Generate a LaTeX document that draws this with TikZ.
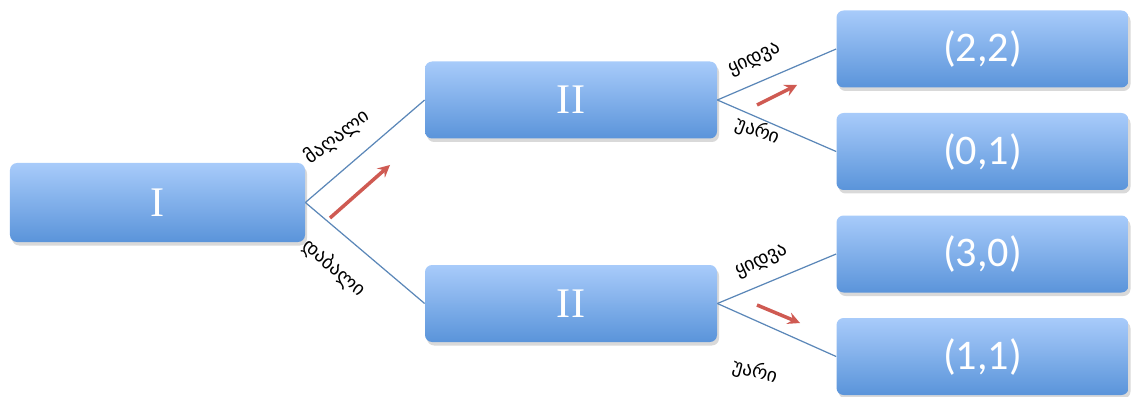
\documentclass[tikz,border=0pt]{standalone}
\usepackage{fontspec}
\setmainfont{Carlito}
\newfontfamily\geofont{DejaVu Sans}
\newfontfamily\romfont{Liberation Serif}
\usetikzlibrary{positioning,shapes,arrows,calc,shadows}

\definecolor{boxtop}{HTML}{A8CBFA}
\definecolor{boxbot}{HTML}{5A94DA}
\definecolor{edgeblue}{HTML}{5B87B8}
\definecolor{hintred}{HTML}{CF5A52}

\begin{document}
\begin{tikzpicture}[
    box/.style={rectangle, rounded corners=4pt, minimum width=5.84cm, minimum height=1.54cm,
        top color=boxtop, bottom color=boxbot, draw=none, text=white, font=\fontsize{24}{26}\selectfont,
        drop shadow={opacity=0.3, shadow xshift=0.04cm, shadow yshift=-0.07cm}},
    player/.style={box, font=\romfont\fontsize{24}{26}\selectfont},
    move/.style={font=\geofont\fontsize{11}{13}\selectfont, inner sep=0pt},
    edge/.style={draw=edgeblue, line width=0.7pt},
    hint/.style={->,>=stealth, draw=hintred, line width=2pt}
]
    \useasboundingbox (0,0) rectangle (22.62,-7.94);

    \node[player, minimum width=5.9cm, minimum height=1.58cm] (first) at (3.15,-4.05) {I};
    \node[player] (secondA) at (11.42,-2.0) {II};
    \node[player] (secondB) at (11.42,-6.07) {II};

    \node[box] (outA) at (19.65,-0.98) {(2,2)};
    \node[box] (outB) at (19.65,-3.03) {(0,1)};
    \node[box] (outC) at (19.65,-5.08) {(3,0)};
    \node[box] (outD) at (19.65,-7.13) {(1,1)};

    \draw[edge] (first.east) -- (secondA.west);
    \draw[edge] (first.east) -- (secondB.west);
    \draw[edge] (secondA.east) -- (outA.west);
    \draw[edge] (secondA.east) -- (outB.west);
    \draw[edge] (secondB.east) -- (outC.west);
    \draw[edge] (secondB.east) -- (outD.west);

    \node[move, rotate=37] (high) at (6.74,-2.74) {მაღალი};
    \node[move, rotate=-41] (low) at (6.68,-5.36) {დაბალი};
    \node[move, rotate=25] (buyA) at (15.1,-1.2) {ყიდვა};
    \node[move, rotate=-20] (refA) at (15.16,-2.62) {უარი};
    \node[move, rotate=25] (buyB) at (15.24,-5.24) {ყიდვა};
    \node[move, rotate=-15] (refB) at (15.1,-7.44) {უარი};

    % best replies
    \coordinate (h1s) at (6.6,-4.36);
    \coordinate (h1e) at (7.8,-3.3);
    \coordinate (h2s) at (15.14,-2.1);
    \coordinate (h2e) at (15.94,-1.7);
    \coordinate (h3s) at (15.14,-6.1);
    \coordinate (h3e) at (16.0,-6.46);
    \draw[hint] (h1s) -- (h1e);
    \draw[hint] (h2s) -- (h2e);
    \draw[hint] (h3s) -- (h3e);
\end{tikzpicture}
\end{document}
